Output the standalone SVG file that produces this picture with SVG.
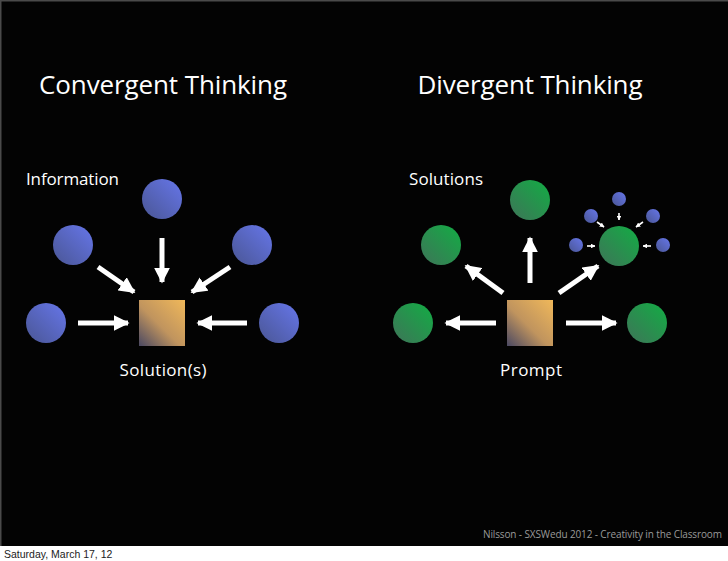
<svg xmlns="http://www.w3.org/2000/svg" width="728" height="561" viewBox="0 0 728 561">
<defs>
<linearGradient id="gBlue" x1="1" y1="0" x2="0" y2="1"><stop offset="0" stop-color="#6676ea"/><stop offset="1" stop-color="#4a5694"/></linearGradient>
<linearGradient id="gGreen" x1="1" y1="0" x2="0" y2="1"><stop offset="0" stop-color="#12ad44"/><stop offset="1" stop-color="#3e7458"/></linearGradient>
<linearGradient id="gSq" x1="1" y1="0" x2="0" y2="1"><stop offset="0" stop-color="#f0b85a"/><stop offset="0.55" stop-color="#c0945e"/><stop offset="1" stop-color="#4a4862"/></linearGradient>
<marker id="ah" viewBox="0 0 10 10" refX="9" refY="5" markerWidth="3.2" markerHeight="3.2" orient="auto" markerUnits="strokeWidth"><path d="M0,0 L10,5 L0,10 Z" fill="#fff"/></marker>
<marker id="ahs" viewBox="0 0 10 10" refX="9" refY="5" markerWidth="3" markerHeight="3" orient="auto" markerUnits="strokeWidth"><path d="M0,0 L10,5 L0,10 Z" fill="#fff"/></marker>
</defs>
<style>
.t{font-family:"Open Sans","Lato",sans-serif;fill:#fff}
.title{font-size:26px}
.lbl{font-size:17px}
.ar{stroke:#fff;stroke-width:5;fill:none;marker-end:url(#ah)}
.ars{stroke:#fff;stroke-width:1.6;fill:none;marker-end:url(#ahs)}
.b{fill:url(#gBlue)}
.g{fill:url(#gGreen)}
.sq{fill:url(#gSq)}
</style>
<rect x="0" y="0" width="728" height="561" fill="#fff"/>
<rect x="0" y="0" width="728" height="546" fill="#030303"/>
<rect x="0" y="0" width="728" height="1.5" fill="#4a4a4a"/>
<rect x="0" y="0" width="1.5" height="546" fill="#4a4a4a"/>

<text class="t title" x="163" y="94" text-anchor="middle" textLength="248">Convergent Thinking</text>
<text class="t title" x="530" y="94" text-anchor="middle" textLength="225">Divergent Thinking</text>

<g id="conv-info">
<text class="t lbl" x="26" y="185" textLength="93">Information</text>
</g>
<g id="c-top"><circle class="b" cx="162" cy="199" r="20"/></g>
<g id="c-ul"><circle class="b" cx="73" cy="245" r="20"/></g>
<g id="c-ur"><circle class="b" cx="252" cy="245" r="20"/></g>
<g id="c-l"><circle class="b" cx="46" cy="323" r="20"/></g>
<g id="c-r"><circle class="b" cx="279" cy="323" r="20"/></g>
<g id="c-sol"><rect class="sq" x="139" y="300" width="46" height="46"/>
<text class="t lbl" x="163" y="376" text-anchor="middle" textLength="87">Solution(s)</text></g>

<g id="d-sol-label"><text class="t lbl" x="409" y="185" textLength="74">Solutions</text></g>
<g id="d-top"><circle class="g" cx="530" cy="200" r="20"/></g>
<g id="d-ul"><circle class="g" cx="441" cy="245" r="20"/></g>
<g id="d-l"><circle class="g" cx="413" cy="323" r="20"/></g>
<g id="d-r"><circle class="g" cx="647" cy="323" r="20"/></g>
<g id="d-ur"><circle class="g" cx="619" cy="246" r="20"/></g>
<g id="d-ur-info">
<circle class="b" cx="619" cy="199" r="7"/>
<circle class="b" cx="591" cy="216" r="7"/>
<circle class="b" cx="653" cy="216" r="7"/>
<circle class="b" cx="576" cy="245" r="7"/>
<circle class="b" cx="663" cy="245" r="7"/>
</g>
<g id="d-prompt"><rect class="sq" x="507" y="300" width="46" height="46"/>
<text class="t lbl" x="531" y="376" text-anchor="middle" textLength="62">Prompt</text></g>

<g id="connectors">
<line class="ar" x1="162" y1="238" x2="162" y2="282"/>
<line class="ar" x1="98" y1="267" x2="134" y2="292"/>
<line class="ar" x1="230" y1="267" x2="192" y2="292"/>
<line class="ar" x1="78" y1="323" x2="128" y2="323"/>
<line class="ar" x1="247" y1="323" x2="198" y2="323"/>

<line class="ar" x1="496" y1="323" x2="446" y2="323"/>
<line class="ar" x1="566" y1="323" x2="616" y2="323"/>
<line class="ar" x1="530" y1="283" x2="530" y2="238"/>
<line class="ar" x1="503" y1="293" x2="466" y2="266"/>
<line class="ar" x1="559" y1="293" x2="598" y2="266"/>

<line class="ars" x1="619" y1="213" x2="619" y2="220"/>
<line class="ars" x1="597" y1="222" x2="604" y2="227"/>
<line class="ars" x1="643" y1="222" x2="636" y2="227"/>
<line class="ars" x1="587" y1="246" x2="595" y2="246"/>
<line class="ars" x1="651" y1="246" x2="643" y2="246"/>
</g>

<text x="722" y="538" text-anchor="end" font-family="Open Sans, Lato, sans-serif" font-size="10" fill="#9a9a9a" textLength="239">Nilsson - SXSWedu 2012 - Creativity in the Classroom</text>
<text x="4" y="558" font-family="Liberation Sans, Arial, sans-serif" font-size="10.5" fill="#222">Saturday, March 17, 12</text>
</svg>
